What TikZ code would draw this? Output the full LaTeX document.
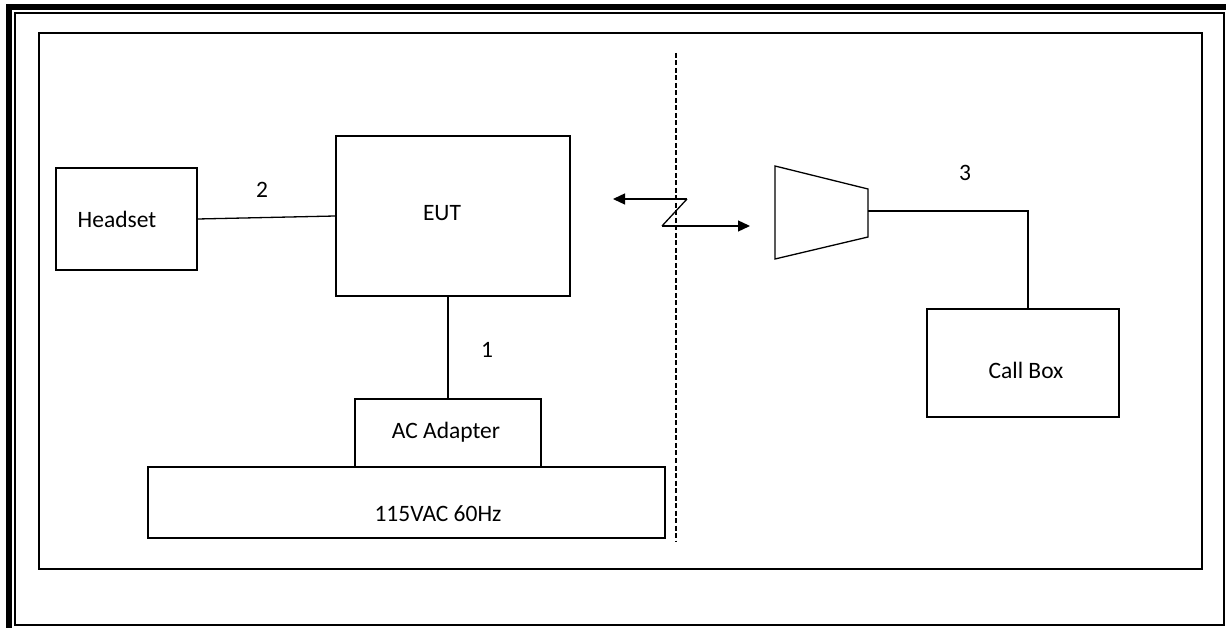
\documentclass[tikz,border=0pt]{standalone}
\usepackage{fontspec}
\setmainfont{Carlito}
\usetikzlibrary{arrows.meta}
\tikzset{
  box/.style={draw=black, line width=1.2pt, inner sep=0pt, minimum width=#1},
  lbl/.style={inner sep=0pt, font=\fontsize{23.5}{28}\selectfont},
  wire/.style={draw=black, line width=1.3pt},
  arr/.style={wire, -{Triangle[length=12pt,width=11pt]}},
  divider/.style={draw=black, line width=1.2pt, dash pattern=on 5pt off 2.5pt},
}
\begin{document}
\begin{tikzpicture}[x=1pt, y=-1pt]
\useasboundingbox (0,0) rectangle (1227,628);
% frames
\fill[black] (6,4) rectangle (12,628);
\fill[black] (6,4) rectangle (1226,10);
\draw[line width=2pt] (15,13) rectangle (1224,625);
\draw[line width=2pt] (39,33) rectangle (1202,569);
% boxes
\node[box=141pt, minimum height=102pt] (hs) at (126.5,219) {};
\node[box=234pt, minimum height=160pt] (eut) at (453,216) {};
\node[box=186pt, minimum height=68pt] (ad) at (448,433) {};
\node[box=517pt, minimum height=71pt] (ac) at (406.5,502.5) {};
\node[box=192pt, minimum height=108pt] (cb) at (1023,363) {};
% texts
\node[lbl] (ths) at (117,219) {Headset};
\node[lbl] (teut) at (442,213) {EUT};
\node[lbl] (tad) at (446,432) {AC Adapter};
\node[lbl] (tac) at (438,514) {115VAC 60Hz};
\node[lbl] (tcb) at (1026,370) {Call Box};
\node[lbl] (n2) at (262,190) {2};
\node[lbl] (n1) at (487,350) {1};
\node[lbl] (n3) at (965,173) {3};
% connectors
\draw[wire] (hs.east) -- (eut.west);
\draw[wire] (ad.north) -- (ad.north |- eut.south);
% divider
\coordinate (dt) at (676,53);
\coordinate (db) at (676,541);
\draw[divider] (dt) -- (db);
% wireless link
\coordinate (za) at (687,199);
\coordinate (zb) at (662,226);
\coordinate (zl) at (613,199);
\coordinate (zr) at (750,226);
\draw[arr] (za) -- (zl);
\draw[wire] (za) -- (zb);
\draw[arr] (zb) -- (zr);
% antenna
\coordinate (t1) at (775,166);
\coordinate (t2) at (868,189);
\coordinate (t3) at (868,237);
\coordinate (t4) at (775,259);
\coordinate (ant) at (868,211);
\coordinate (corner) at (1028,211);
\draw[line width=1.3pt, line join=miter] (t1) -- (t2) -- (t3) -- (t4) -- cycle;
\draw[wire] (ant) -- (corner) -- (corner |- cb.north);
\end{tikzpicture}
\end{document}
